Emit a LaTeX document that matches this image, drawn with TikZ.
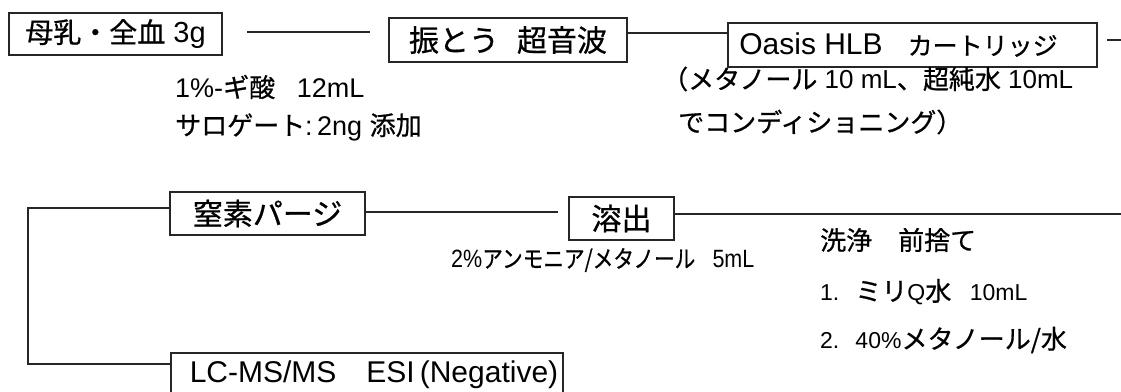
\documentclass[tikz,border=0pt]{standalone}
\usepackage{fontspec}
\usepackage{graphicx}
\setmainfont{Liberation Sans}
\newfontfamily\jp{Noto Sans CJK JP}[FakeBold=0.7]
\def\jsz{24}
\newcommand\J[1]{{\jp\fontsize{\jsz}{\jsz}\selectfont #1}}
\newcommand\fs[2]{\fontsize{#1}{#1}\selectfont\def\jsz{#2}}
\begin{document}
\begin{tikzpicture}[x=1pt,y=-1pt,
  box/.style={draw=black!85, line width=1.3pt, inner sep=0pt, text=black},
  note/.style={anchor=west, inner sep=0pt, text=black, font=\fs{27}{26}},
  conn/.style={draw=black!85, line width=1.3pt}]
\useasboundingbox (0,0) rectangle (1121,391);
\clip (0,0) rectangle (1121,391);
% boxes
\node[box, minimum width=213, minimum height=42, font=\fs{29}{28}] (b1) at (115.5,34) {\J{母乳・全血} 3g};
\node[box, minimum width=238, minimum height=44, font=\fs{30}{30}] (b2) at (508,40) {\J{振とう}\hspace{0.6em}\J{超音波}};
\node[box, minimum width=369, minimum height=44, font=\fs{30}{25}] (b3) at (912.5,45) {Oasis HLB\J{　カートリッジ}\hspace*{28pt}};
\node[box, minimum width=195, minimum height=43, font=\fs{30}{30}] (b4) at (267.5,213.5) {\J{窒素パージ}};
\node[box, minimum width=105, minimum height=43, font=\fs{30}{30}] (b5) at (621.5,218.5) {\J{溶出}};
\node[box, minimum width=392, minimum height=44, font=\fs{30}{30}] (b6) at (367,375) {\hspace*{14pt}LC-MS/MS\J{　}ESI\,(Negative)};
% connectors row 1
\coordinate (l1s) at (247,32);
\coordinate (l1e) at (370,32);
\draw[conn] (l1s) -- (l1e);
\coordinate (yb) at (0,33);
\draw[conn] (b2.east |- yb) -- (b3.west |- yb);
\coordinate (r1s) at (1107,40);
\coordinate (r1e) at (1121,40);
\draw[conn] (r1s) -- (r1e);
% connectors row 2
\coordinate (r2) at (1121,214);
\draw[conn] (r2) -- (b5.east |- r2);
\coordinate (e5) at (558,212);
\draw[conn] (b4.east |- e5) -- (e5);
\coordinate (lt) at (28,208);
\coordinate (lb) at (28,364);
\draw[conn] (b4.west |- lt) -- (lt) -- (lb) -- (b6.west |- lb);
% notes
\node[note] (n1) at (175,87) {1\%-\J{ギ酸}\hspace{0.8em}12mL};
\node[note] (n2) at (175,127) {\J{サロゲート}:\,2ng \J{添加}};
\node[note, font=\fs{26}{26}] (n3) at (662,79) {\J{（メタノール} 10 mL\J{、超純水} 10mL};
\node[note] (n4) at (678,122) {\J{でコンディショニング）}};
\node[note, font=\fs{25}{24}] (n5) at (451,260) {\scalebox{0.86}[1]{2\%\J{アンモニア/メタノール}\hspace{0.8em}5mL}};
\node[note, font=\fs{23}{26}] (n6) at (820,240) {\J{洗浄　前捨て}};
\node[note, font=\fs{23}{26}] (n7) at (820,292) {1.\hspace{0.7em}\J{ミリ}Q\J{水}\hspace{0.8em}10mL};
\node[note, font=\fs{23}{26}] (n8) at (820,340) {2.\hspace{0.7em}40\%\J{メタノール/水}};
\end{tikzpicture}
\end{document}
